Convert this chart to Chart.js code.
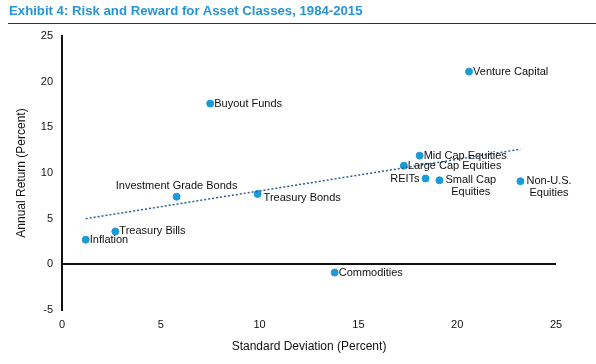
<!DOCTYPE html>
<html>
<head>
<meta charset="utf-8">
<script src="https://cdn.jsdelivr.net/npm/chart.js@4"></script>
<style>
  body { margin: 0; background: #fff; }
  #wrap { position: relative; width: 596px; height: 364px; }
  #title { position: absolute; left: 9px; top: 3px; font: bold 13.2px 'Liberation Sans', Arial, sans-serif; color: #2596d3; }
  #rule { position: absolute; left: 8px; right: 0; top: 23px; height: 0; border-top: 1px solid #333; }
  canvas { position: absolute; left: 0; top: 0; }
</style>
</head>
<body>
<div id="wrap">
  <canvas id="chart" width="596" height="364"></canvas>
  <div id="title">Exhibit 4: Risk and Reward for Asset Classes, 1984-2015</div>
  <div id="rule"></div>
</div>
<script>
'use strict';

// asset classes, std deviation (x) and annual return (y)
var assets  = ['Venture Capital', 'Buyout Funds', 'Mid Cap Equities', 'Large Cap Equities', 'REITs',
               'Small Cap|Equities', 'Non-U.S.|Equities', 'Investment Grade Bonds', 'Treasury Bonds',
               'Treasury Bills', 'Inflation', 'Commodities'];
var stdDev  = [20.6, 7.5, 18.1, 17.3, 18.4, 19.1, 23.2, 5.8, 9.9, 2.7, 1.2, 13.8];
var returns = [21.1, 17.6, 11.9, 10.8, 9.4, 9.2, 9.1, 7.4, 7.7, 3.6, 2.7, -0.9];

// dotted trend line end points
var trendX = [1.2, 23.2];
var trendY = [5.0, 12.6];

var xTicks = [0, 5, 10, 15, 20, 25];
var yTicks = [-5, 0, 5, 10, 15, 20, 25];

// where each label sits relative to its point
var labelPos = ['right', 'right', 'right', 'right', 'left', 'right2', 'right2', 'above', 'rightBelow',
                'right', 'right', 'right'];

var FONT = "'Liberation Sans', Arial, sans-serif";

var pointLabels = {
  id: 'pointLabels',
  afterDatasetsDraw: function (chart) {
    var ctx = chart.ctx;
    var meta = chart.getDatasetMeta(1);
    ctx.save();
    ctx.font = '11px ' + FONT;
    ctx.fillStyle = '#111';
    ctx.textBaseline = 'middle';
    meta.data.forEach(function (pt, i) {
      var lines = assets[i].split('|');
      var pos = labelPos[i];
      if (pos === 'right') {
        ctx.textAlign = 'left';
        ctx.fillText(lines[0], pt.x + 4, pt.y);
      } else if (pos === 'left') {
        ctx.textAlign = 'right';
        ctx.fillText(lines[0], pt.x - 6, pt.y);
      } else if (pos === 'above') {
        ctx.textAlign = 'center';
        ctx.fillText(lines[0], pt.x, pt.y - 11);
      } else if (pos === 'rightBelow') {
        ctx.textAlign = 'left';
        ctx.fillText(lines[0], pt.x + 6, pt.y + 4);
      } else if (pos === 'right2') {
        var w = ctx.measureText(lines[0]).width;
        var cx = pt.x + 6 + w / 2;
        ctx.textAlign = 'center';
        ctx.fillText(lines[0], cx, pt.y);
        ctx.fillText(lines[1], cx, pt.y + 12);
      }
    });
    ctx.restore();
  }
};

new Chart(document.getElementById('chart'), {
  type: 'scatter',
  data: {
    datasets: [{
      type: 'line',
      data: trendX.map(function (x, i) { return { x: x, y: trendY[i] }; }),
      borderColor: '#2e5f8f',
      borderWidth: 1.5,
      borderDash: [2, 2],
      pointRadius: 0,
      fill: false
    }, {
      data: stdDev.map(function (x, i) { return { x: x, y: returns[i] }; }),
      backgroundColor: '#1a9ad6',
      borderColor: '#1a9ad6',
      pointRadius: 3.5,
      pointHoverRadius: 3.5
    }]
  },
  options: {
    responsive: false,
    animation: false,
    layout: { padding: { top: 36, right: 40, left: 0, bottom: 0 } },
    plugins: { legend: { display: false }, tooltip: { enabled: false } },
    scales: {
      x: {
        type: 'linear',
        min: 0, max: 25,
        afterBuildTicks: function (s) { s.ticks = xTicks.map(function (v) { return { value: v }; }); },
        afterFit: function (s) { s.height = 54; },
        grid: { display: false, drawTicks: false },
        border: { display: false },
        ticks: { padding: 8, color: '#111', font: { size: 11, family: FONT } },
        title: { display: true, text: 'Standard Deviation (Percent)', color: '#111',
                 font: { size: 12, family: FONT }, padding: { top: 4, bottom: 10 } }
      },
      y: {
        min: -5, max: 25,
        afterBuildTicks: function (s) { s.ticks = yTicks.map(function (v) { return { value: v }; }); },
        afterFit: function (s) { s.width = 62; },
        grid: {
          drawTicks: false,
          color: function (c) { return c.tick && c.tick.value === 0 ? '#111' : 'rgba(0,0,0,0)'; },
          lineWidth: 2
        },
        border: { display: true, color: '#111', width: 2 },
        ticks: { padding: 9, color: '#111', font: { size: 11, family: FONT } },
        title: { display: true, text: 'Annual Return (Percent)', color: '#111',
                 font: { size: 12, family: FONT }, padding: { bottom: 0, top: 14 } }
      }
    }
  },
  plugins: [pointLabels]
});
</script>
</body>
</html>
